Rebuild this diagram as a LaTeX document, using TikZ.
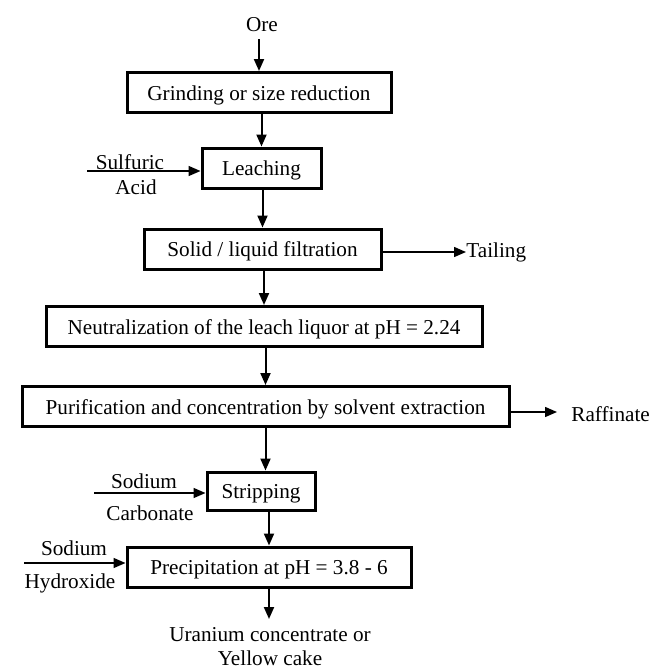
\documentclass[tikz,border=0pt]{standalone}
\usepackage{fontspec}
\setmainfont{Liberation Serif}
\usetikzlibrary{arrows.meta,positioning}

\begin{document}
\begin{tikzpicture}[
    x=0.5pt, y=-0.5pt,
    font=\fontsize{10.6}{12.5}\selectfont,
    procbox/.style={rectangle, draw, line width=1.5pt, minimum height=20pt,
                 inner sep=0pt, text height=9pt, text depth=1.5pt},
    lbl/.style={inner sep=0pt},
    arr/.style={-{Triangle[length=6pt, width=5pt]}, line width=1pt},
    sidearr/.style={-{Triangle[length=6pt, width=5pt]}, line width=0.75pt},
]
    \useasboundingbox (0,0) rectangle (652,671);

    % main chain
    \node (ore) at (262,25) {Ore};
    \node[procbox, minimum width=132pt] (grind) at (259,92.5) {Grinding or size reduction};
    \node[procbox, minimum width=59.5pt] (leach) at (261.5,168) {Leaching};
    \node[procbox, minimum width=118.5pt] (solid) at (262.5,249) {Solid / liquid filtration};
    \node[procbox, minimum width=218pt] (neut) at (264,326.5) {Neutralization of the leach liquor at pH = 2.24};
    \node[procbox, minimum width=243.5pt] (purif) at (265.5,406.5) {Purification and concentration by solvent extraction};
    \node[procbox, minimum width=54pt, minimum height=19pt] (strip) at (261,491) {Stripping};
    \node[procbox, minimum width=142pt] (precip) at (269,567) {Precipitation at pH = 3.8 - 6};
    \node[align=center, font=\fontsize{10.6}{12}\selectfont] (uran) at (270,647) {Uranium concentrate or\\Yellow cake};
    \coordinate (outtip) at (271,619);

    \draw[arr] (grind.north |- ore.south) -- (grind.north);
    \draw[arr] (leach.north |- grind.south) -- (leach.north);
    \draw[arr] (solid.north |- leach.south) -- (solid.north);
    \draw[arr] (neut.north |- solid.south) -- (neut.north);
    \draw[arr] (purif.north |- neut.south) -- (purif.north);
    \draw[arr] (purif.south) -- (purif.south |- strip.north);
    \draw[arr] (precip.north |- strip.south) -- (precip.north);
    \draw[arr] (precip.south) -- (precip.south |- outtip);

    % side streams
    \node (sulf) at (130,162) {Sulfuric};
    \node (acid) at (136,187) {Acid};
    \coordinate (acidin) at (87,171);
    \draw[sidearr] (acidin) -- (acidin -| leach.west);

    \node[lbl, anchor=west] (tail) at (466,252) {Tailing};
    \draw[sidearr] (solid.east |- tail.west) -- (tail.west);

    \node[lbl, anchor=west] (raff) at (571,414) {Raffinate};
    \coordinate (rafftip) at (557,412);
    \draw[sidearr] (purif.east |- rafftip) -- (rafftip);

    \node (sodc) at (144,481) {Sodium};
    \node (carb) at (150,513) {Carbonate};
    \coordinate (carbin) at (94,493);
    \draw[sidearr] (carbin) -- (carbin -| strip.west);

    \node (sodh) at (74,548) {Sodium};
    \node (hydr) at (70,583) {Hydroxide};
    \coordinate (hydrin) at (24,563);
    \draw[sidearr] (hydrin) -- (hydrin -| precip.west);
\end{tikzpicture}
\end{document}
